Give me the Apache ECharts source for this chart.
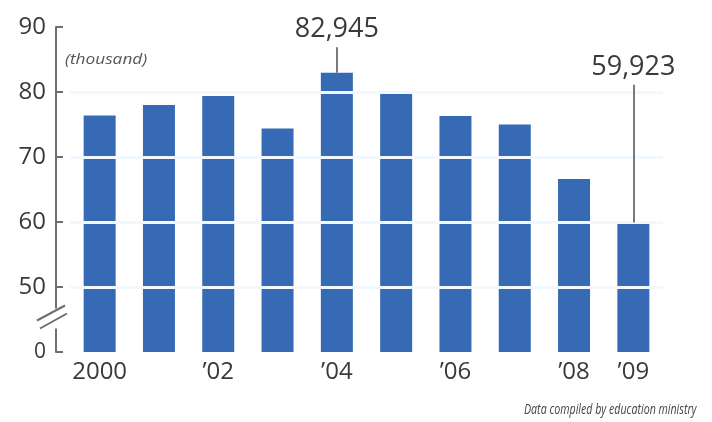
<!DOCTYPE html>
<html>
<head>
<meta charset="utf-8">
<script src="https://cdn.jsdelivr.net/npm/echarts@6/dist/echarts.min.js"></script>
<style>
  html, body { margin: 0; padding: 0; background: #fff; }
  #chart { width: 712px; height: 422px; }
</style>
</head>
<body>
<div id="chart"></div>
<script>
// 大学入学者数 (thousand)
const years = ['2000', '2001', '2002', '2003', '2004', '2005', '2006', '2007', '2008', '2009']
const tickLabels = ['2000', '', '\u201902', '', '\u201904', '', '\u201906', '', '\u201908', '\u201909']
const enrollment = [76.4, 78.0, 79.4, 74.4, 82.945, 80.0, 76.3, 75.0, 66.6, 59.923]
const whiteLines = [50, 60, 70, 80]
const calloutYears = ['2004', '2009']
const calloutTops = [86.9, 81.1] // 引出线顶端

const FONT = 'Open Sans'
const TEXT = '#3a3a3a'
const BAR = '#376ab4'
const AXIS = '#6e6e6e'
const GRID_LEFT = 70
const AXIS_OFFSET = 14

const fmtPersons = v => Math.round(v * 1000).toLocaleString('en-US')

const chart = echarts.init(document.getElementById('chart'), null, { renderer: 'canvas' })

const markData = whiteLines.map(v => ({
  yAxis: v,
  lineStyle: { color: '#f2f8ff', width: 3, type: 'solid' },
  label: { show: false }
}))
calloutYears.forEach((y, i) => {
  const idx = years.indexOf(y)
  const val = enrollment[idx]
  markData.push([
    {
      coord: [idx, val],
      lineStyle: { color: '#7a7a7a', width: 2, type: 'solid' },
      label: {
        show: true,
        position: 'end',
        distance: 4,
        formatter: () => fmtPersons(val),
        fontFamily: FONT,
        fontSize: 27,
        color: TEXT
      }
    },
    { coord: [idx, calloutTops[i]] }
  ])
})

chart.setOption({
  animation: false,
  textStyle: { fontFamily: FONT },
  grid: { left: GRID_LEFT, right: 49, top: 27, bottom: 70, containLabel: false },
  xAxis: {
    type: 'category',
    data: years,
    axisLine: { show: false },
    axisTick: { show: false },
    axisLabel: {
      interval: 0,
      margin: 8,
      fontSize: 24,
      color: TEXT,
      formatter: (v, i) => tickLabels[i]
    }
  },
  yAxis: {
    type: 'value',
    min: 40, // 断轴: 40 以下省略, 显示为 0
    max: 90,
    interval: 10,
    offset: AXIS_OFFSET,
    splitLine: { show: false },
    axisLine: { show: true, onZero: false, lineStyle: { color: AXIS, width: 2 } },
    axisTick: { show: true, inside: true, length: 7, lineStyle: { color: AXIS, width: 2 } },
    axisLabel: {
      margin: 10,
      fontSize: 24,
      color: TEXT,
      formatter: v => (v === 40 ? '{z|0}' : String(v)),
      rich: { z: { fontSize: 21, color: TEXT, fontFamily: FONT } }
    }
  },
  graphic: [
    {
      id: 'unit',
      type: 'text',
      x: 65,
      y: 52,
      scaleX: 1.15,
      style: { text: '(thousand)', fontStyle: 'italic', fontSize: 15, fontFamily: FONT, fill: '#555' }
    },
    {
      id: 'source',
      type: 'text',
      x: 524,
      y: 403,
      scaleX: 0.76,
      style: { text: 'Data compiled by education ministry', fontStyle: 'italic', fontSize: 14, fontFamily: FONT, fill: '#444' }
    }
  ],
  series: [{
    type: 'bar',
    data: enrollment,
    barWidth: 32,
    itemStyle: { color: BAR },
    markLine: {
      silent: true,
      symbol: ['none', 'none'],
      animation: false,
      label: { show: false },
      data: markData
    }
  }]
})

// 断轴符号 //
const y40 = chart.convertToPixel({ yAxisIndex: 0 }, 40)
const y50 = chart.convertToPixel({ yAxisIndex: 0 }, 50)
const mid = (y40 + y50) / 2 - 3
const ax = GRID_LEFT - AXIS_OFFSET
const slash = { stroke: AXIS, lineWidth: 2 }
chart.setOption({
  graphic: [
    { id: 'gap', type: 'rect', z: 100, shape: { x: ax - 5, y: mid - 8, width: 10, height: 20 }, style: { fill: '#fff' } },
    { id: 's1', type: 'line', z: 101, shape: { x1: ax - 19, y1: mid + 4, x2: ax + 9, y2: mid - 11 }, style: slash },
    { id: 's2', type: 'line', z: 101, shape: { x1: ax - 16, y1: mid + 12, x2: ax + 11, y2: mid - 3 }, style: slash }
  ]
})
</script>
</body>
</html>
